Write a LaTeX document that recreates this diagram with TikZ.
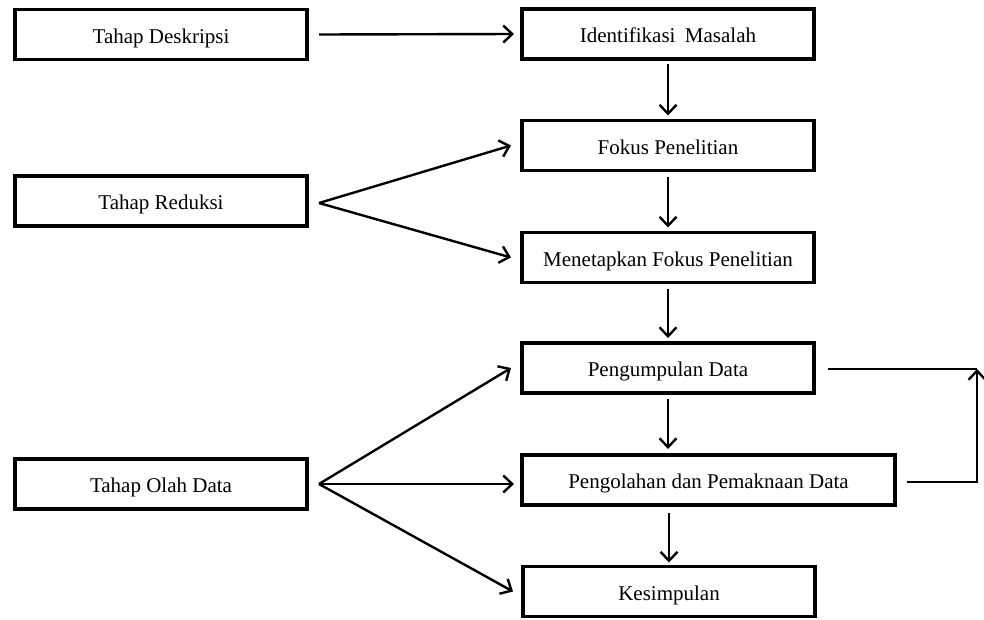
\documentclass[tikz,border=0pt]{standalone}
\usepackage{fontspec}
\setmainfont{Liberation Serif}
\usetikzlibrary{arrows.meta}
\begin{document}
\begin{tikzpicture}[x=1pt,y=-1pt,
  box/.style={draw, line width=3.5pt, minimum height=50pt, inner sep=0pt, outer sep=0pt,
    font=\fontsize{21}{25}\selectfont, text height=17pt, text depth=0pt},
  lbox/.style={box, minimum width=292pt},
  rbox/.style={box, minimum width=292pt},
  arr/.style={line width=2.4pt, -{Straight Barb[length=9pt,width=17pt,line width=2.4pt]}},
  ln/.style={line width=2.4pt}]
\useasboundingbox (0,0) rectangle (984,619);
% left boxes
\node[lbox] (desk) at (161,34.5) {Tahap Deskripsi};
\node[lbox] (red)  at (161,201) {Tahap Reduksi};
\node[lbox] (olah) at (161,484) {Tahap Olah Data};
% right boxes
\node[rbox] (ident) at (668,34) {Identifikasi\hspace{0.45em}Masalah};
\node[rbox] (fokus) at (668,145.5) {Fokus Penelitian};
\node[rbox] (menet) at (668,257.5) {Menetapkan Fokus Penelitian};
\node[rbox] (pengum) at (668,368) {Pengumpulan Data};
\node[box, minimum width=373pt] (pengol) at (708.5,480) {Pengolahan dan Pemaknaan Data};
\node[rbox] (kes) at (669,591.5) {Kesimpulan};
\coordinate (corner) at (977,369);
% horizontal from Deskripsi
\draw[arr] ([xshift=12pt]desk.east) -- ([xshift=-8pt]ident.west);
% fan from Reduksi
\draw[arr] ([xshift=12pt,yshift=-2pt]red.east) -- ([xshift=-11pt]fokus.west);
\draw[arr] ([xshift=12pt,yshift=-2pt]red.east) -- ([xshift=-11pt]menet.west);
% fan from Olah Data
\draw[arr] ([xshift=12pt]olah.east) -- ([xshift=-11pt]pengum.west);
\draw[arr] ([xshift=12pt]olah.east) -- ([xshift=-8pt]pengol.west |- olah.east);
\draw[arr] ([xshift=12pt]olah.east) -- ([xshift=-10pt]kes.west);
% vertical chain
\draw[arr] ([yshift=-5pt]ident.south) -- ([yshift=5pt]fokus.north);
\draw[arr] ([yshift=-6pt]fokus.south) -- ([yshift=5pt]menet.north);
\draw[arr] ([yshift=-6pt]menet.south) -- ([yshift=5pt]pengum.north);
\draw[arr] ([yshift=-6pt]pengum.south) -- ([yshift=6pt]pengum.south |- pengol.north);
\draw[arr] ([yshift=-8pt]kes.north |- pengol.south) -- ([yshift=4pt]kes.north);
% feedback
\draw[ln] ([xshift=14pt,yshift=-1pt]pengum.east) -- (corner);
\draw[arr] ([xshift=12pt,yshift=-2pt]pengol.east) -| (corner);
\end{tikzpicture}
\end{document}
